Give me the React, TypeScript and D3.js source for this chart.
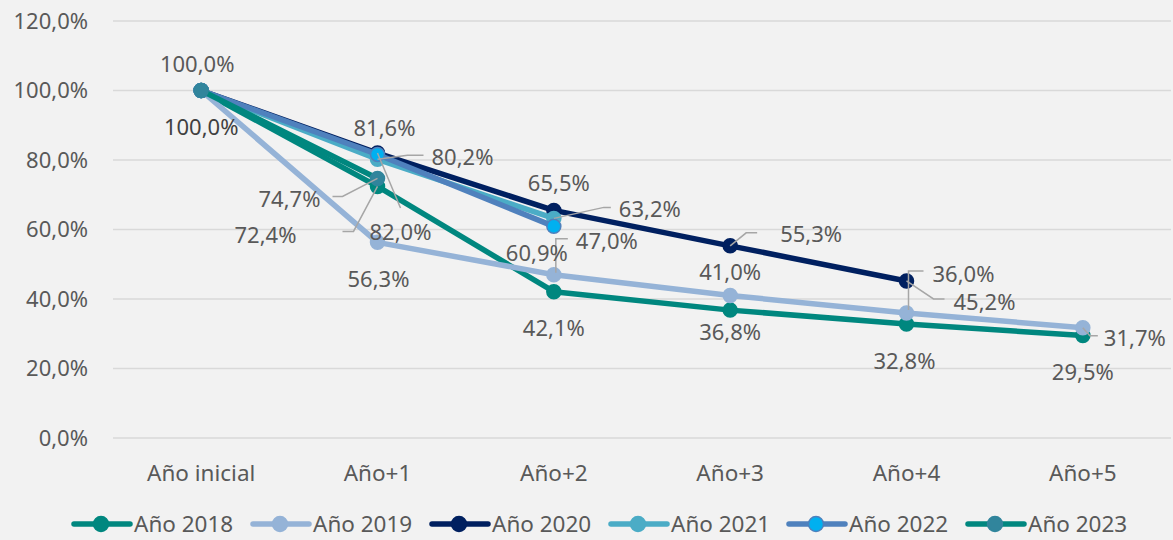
import * as d3 from 'd3'
import React, { useEffect, useRef } from 'react'

// categories / ticks
const categories = ['Año inicial', 'Año+1', 'Año+2', 'Año+3', 'Año+4', 'Año+5'];
const yTicks = [0, 20, 40, 60, 80, 100, 120];

// retention per cohort (%)
const seriesNames = ['Año 2018', 'Año 2019', 'Año 2020', 'Año 2021', 'Año 2022', 'Año 2023'];
const serie2018 = [100, 72.4, 42.1, 36.8, 32.8, 29.5];
const serie2019 = [100, 56.3, 47.0, 41.0, 36.0, 31.7];
const serie2020 = [100, 82.0, 65.5, 55.3, 45.2];
const serie2021 = [100, 80.2, 63.2];
const serie2022 = [100, 81.6, 60.9];
const serie2023 = [100, 74.7];
const allSeries = [serie2018, serie2019, serie2020, serie2021, serie2022, serie2023];

// styling
const lineColors = ['#00877F', '#95B3D7', '#002060', '#4BACC6', '#4F81BD', '#00877F'];
const markerColors = ['#00877F', '#95B3D7', '#002060', '#4BACC6', '#00B0F0', '#31859C'];
const markerStroke = ['#00877F', '#95B3D7', '#002060', '#4BACC6', '#4F81BD', '#31859C'];

// label placement (offsets from the point, leader = polyline offsets ending at the point)
type LabelPos = { s: number; i: number; dx: number; dy: number; leader?: [number, number][]; dark?: boolean };
const labelPos: LabelPos[] = [
    { s: 5, i: 0, dx: -4, dy: -26 },
    { s: 0, i: 0, dx: 0, dy: 37, dark: true },
    { s: 4, i: 1, dx: 7, dy: -26 },
    { s: 3, i: 1, dx: 85, dy: -2, leader: [[46, -4], [30, -4], [0, 0]] },
    { s: 5, i: 1, dx: -88, dy: 21, leader: [[-45, 18], [-35, 18], [0, 0]] },
    { s: 0, i: 1, dx: -112, dy: 49, leader: [[-35, 45], [-24, 45], [0, 0]] },
    { s: 2, i: 1, dx: 23, dy: 79, leader: [[23, 55], [0, 0]] },
    { s: 1, i: 1, dx: 1, dy: 37 },
    { s: 2, i: 2, dx: 5, dy: -27 },
    { s: 3, i: 2, dx: 96, dy: -9, leader: [[57, -11], [50, -11], [0, 0]] },
    { s: 4, i: 2, dx: -17, dy: 27 },
    { s: 1, i: 2, dx: 53, dy: -33, leader: [[14, -36], [2, -36], [2, -2]] },
    { s: 0, i: 2, dx: 0, dy: 37 },
    { s: 1, i: 3, dx: 0, dy: -23 },
    { s: 0, i: 3, dx: 0, dy: 22 },
    { s: 2, i: 3, dx: 81, dy: -12, leader: [[27, -13], [16, -13], [0, 0]] },
    { s: 1, i: 4, dx: 57, dy: -39, leader: [[17, -42], [2, -42], [2, -3]] },
    { s: 2, i: 4, dx: 78, dy: 21, leader: [[38, 18], [27, 18], [0, 0]] },
    { s: 0, i: 4, dx: -2, dy: 37 },
    { s: 1, i: 5, dx: 52, dy: 10, leader: [[15, 8], [7, 8], [0, 0]] },
    { s: 0, i: 5, dx: 0, dy: 37 },
];

const locale = d3.formatLocale({ decimal: ',', thousands: '.', grouping: [3], currency: ['', ''] });
const fmt = (v: number) => locale.format('.1f')(v) + '%';

const App: React.FC = () => {
    const ref = useRef<SVGSVGElement>(null);
    const width = 1173;
    const height = 540;

    useEffect(() => {
        document.body.style.margin = '0';
        if (!ref.current) return;
        const svg = d3.select(ref.current);
        svg.selectAll('*').remove();

        const font = "'Noto Sans', 'Open Sans', sans-serif";
        const x = d3.scaleBand<string>().domain(categories).range([113, 1171]);
        const y = d3.scaleLinear().domain([0, 120]).range([438, 21]);
        const px = (i: number) => (x(categories[i]) as number) + x.bandwidth() / 2;

        svg.append('rect').attr('width', width).attr('height', height).attr('fill', '#F2F2F2');

        // grid + y ticks
        const grid = svg.append('g');
        grid.selectAll('line')
            .data(yTicks)
            .enter()
            .append('line')
            .attr('x1', 113).attr('x2', 1171)
            .attr('y1', d => y(d)).attr('y2', d => y(d))
            .attr('stroke', '#D9D9D9').attr('stroke-width', 1.5);
        grid.selectAll('text')
            .data(yTicks)
            .enter()
            .append('text')
            .attr('x', 88).attr('y', d => y(d))
            .attr('dy', '0.35em')
            .attr('text-anchor', 'end')
            .attr('font-family', font).attr('font-size', 22)
            .attr('fill', '#595959')
            .text(d => fmt(d));

        // x labels
        svg.append('g')
            .selectAll('text')
            .data(categories)
            .enter()
            .append('text')
            .attr('x', (d, i) => px(i)).attr('y', 473)
            .attr('dy', '0.35em')
            .attr('text-anchor', 'middle')
            .attr('font-family', font).attr('font-size', 22.5)
            .attr('fill', '#595959')
            .text(d => d);

        // lines + markers
        const line = d3.line<number>().x((d, i) => px(i)).y(d => y(d));
        allSeries.forEach((vals, s) => {
            const g = svg.append('g');
            g.append('path')
                .attr('d', line(vals))
                .attr('fill', 'none')
                .attr('stroke', lineColors[s])
                .attr('stroke-width', 5.5)
                .attr('stroke-linejoin', 'round')
                .attr('stroke-linecap', 'round');
            g.selectAll('circle')
                .data(vals)
                .enter()
                .append('circle')
                .attr('cx', (d, i) => px(i)).attr('cy', d => y(d))
                .attr('r', 7)
                .attr('fill', markerColors[s])
                .attr('stroke', markerStroke[s])
                .attr('stroke-width', 1.5);
        });

        // leaders
        const lg = svg.append('g');
        labelPos.filter(l => l.leader).forEach(l => {
            const cx = px(l.i);
            const cy = y(allSeries[l.s][l.i]);
            lg.append('polyline')
                .attr('points', (l.leader as [number, number][]).map(p => `${cx + p[0]},${cy + p[1]}`).join(' '))
                .attr('fill', 'none')
                .attr('stroke', '#A6A6A6')
                .attr('stroke-width', 1.5);
        });

        // data labels
        svg.append('g')
            .selectAll('text')
            .data(labelPos)
            .enter()
            .append('text')
            .attr('x', d => px(d.i) + d.dx)
            .attr('y', d => y(allSeries[d.s][d.i]) + d.dy)
            .attr('dy', '0.35em')
            .attr('text-anchor', 'middle')
            .attr('font-family', font).attr('font-size', 22)
            .attr('fill', d => (d.dark ? '#404040' : '#595959'))
            .text(d => fmt(allSeries[d.s][d.i]));

        // legend
        const legendX = [74, 253, 432, 611, 789, 968];
        const leg = svg.append('g');
        seriesNames.forEach((name, s) => {
            const lx = legendX[s];
            const ly = 524;
            leg.append('line')
                .attr('x1', lx).attr('x2', lx + 56)
                .attr('y1', ly).attr('y2', ly)
                .attr('stroke', lineColors[s]).attr('stroke-width', 5.5)
                .attr('stroke-linecap', 'round');
            leg.append('circle')
                .attr('cx', lx + 27).attr('cy', ly).attr('r', 7.5)
                .attr('fill', markerColors[s])
                .attr('stroke', markerStroke[s]).attr('stroke-width', 1.5);
            leg.append('text')
                .attr('x', lx + 60).attr('y', ly)
                .attr('dy', '0.35em')
                .attr('font-family', font).attr('font-size', 22.5)
                .attr('fill', '#595959')
                .text(name);
        });
    }, []);

    return <svg ref={ref} width={width} height={height} style={{ display: 'block' }}></svg>;
};

export default App;
